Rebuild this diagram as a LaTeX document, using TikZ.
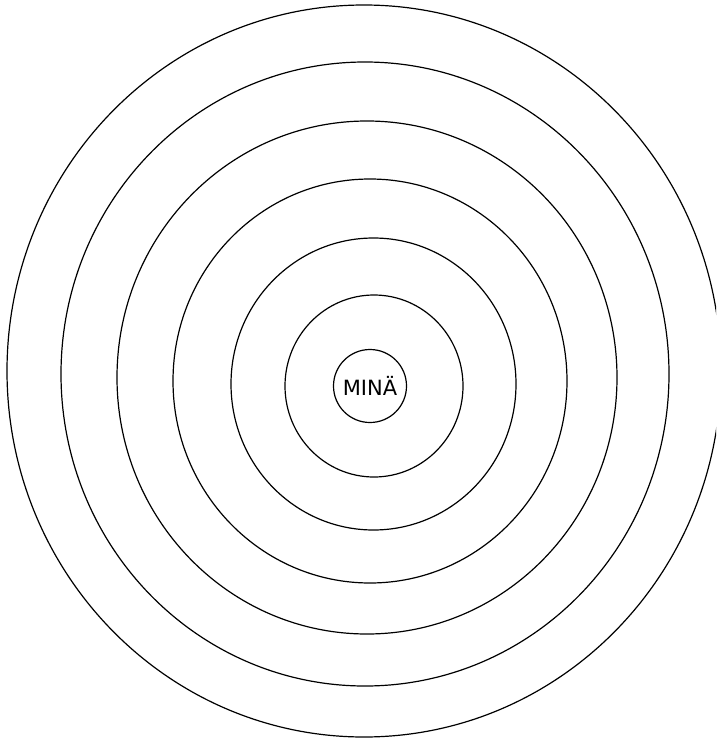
\documentclass[tikz,border=0pt]{standalone}
\usepackage{fontspec}
\setmainfont{DejaVu Sans}
\usetikzlibrary{positioning}

\begin{document}
\begin{tikzpicture}[
  x=1pt,y=-1pt,
  ring/.style={draw=black,line width=1.2pt},
  me/.style={draw=black,line width=1.2pt,circle,inner sep=0pt,
    minimum size=73pt,font=\fontsize{21}{21}\selectfont}
]
\useasboundingbox (0,0) rectangle (716,739);
\clip (0,0) rectangle (716,739);
% rings from outside in: centre x, centre y, radius x, radius y
\foreach \cx/\cy/\rx/\ry in {364/371/357/366, 365/374/304/312,
  367/377.5/250/256.5, 370/381/197/202, 373.5/384/142.5/146, 374/386/89/91}
  \draw[ring] (\cx,\cy) ellipse [x radius=\rx, y radius=\ry];
\node[me] (mina) at (370,386) {MINÄ};
\end{tikzpicture}
\end{document}
